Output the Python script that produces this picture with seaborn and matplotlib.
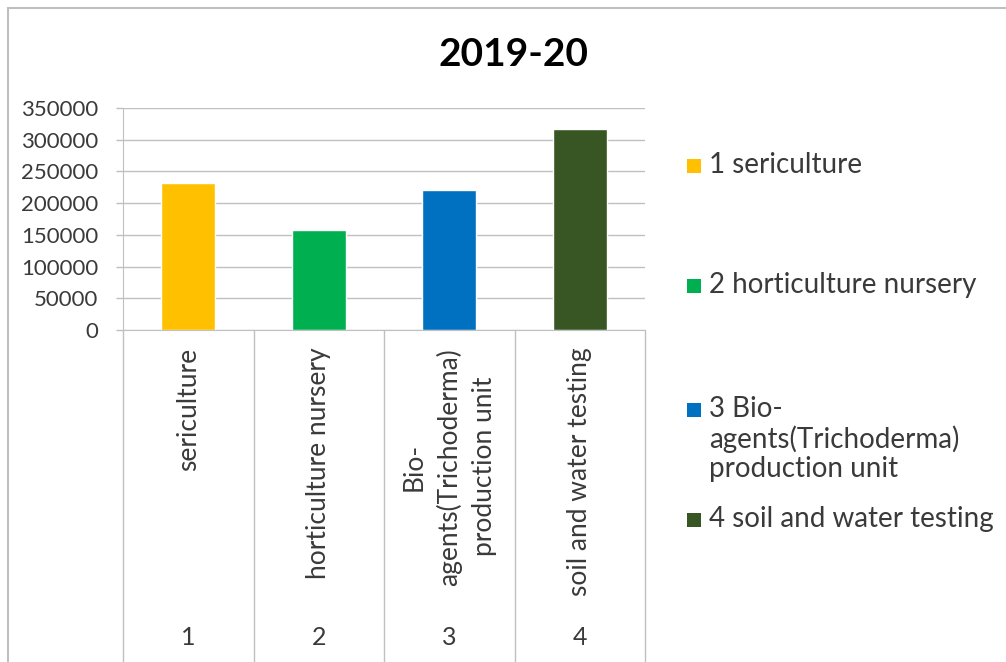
import matplotlib
matplotlib.use("Agg")
import matplotlib.pyplot as plt
import seaborn as sns
from matplotlib.patches import Rectangle
from matplotlib.lines import Line2D

# data
numbers = ["1", "2", "3", "4"]
names = ["sericulture", "horticulture nursery",
         "Bio-\nagents(Trichoderma)\nproduction unit", "soil and water testing"]
values = [231000, 157500, 220500, 317500]
colors = ["#FFC000", "#00B050", "#0070C0", "#375623"]
yticks = [0, 50000, 100000, 150000, 200000, 250000, 300000, 350000]
title = "2019-20"

sns.set_style("white")
plt.rcParams["font.family"] = ["Lato", "DejaVu Sans"]
text_col = "#3A3A3A"
grid_col = "#C0C0C0"

W, H = 1006, 662
fig = plt.figure(figsize=(W / 100, H / 100), dpi=100)
ax = fig.add_axes([123 / W, 1 - 330 / H, 522 / W, 222 / H])

sns.barplot(x=names, y=values, hue=names, palette=colors, width=0.41,
            saturation=1, legend=False, ax=ax)

ax.set_ylim(0, 350000)
ax.set_xlim(-0.5, 3.5)
ax.set_yticks(yticks)
ax.set_yticklabels([str(v) for v in yticks], fontsize=16, color=text_col)
ax.tick_params(axis="y", length=5, width=1, color=grid_col, pad=13, left=True)
ax.set_xticks([])
ax.set_xlabel("")
ax.set_ylabel("")
ax.yaxis.grid(True, color=grid_col, linewidth=1)
ax.set_axisbelow(True)
for s in ["top", "right"]:
    ax.spines[s].set_visible(False)
ax.spines["left"].set_color(grid_col)
ax.spines["bottom"].set_color(grid_col)

# multi-level category axis below the plot
tr = ax.get_xaxis_transform()
for b in [-0.5, 0.5, 1.5, 2.5, 3.5]:
    ax.add_line(Line2D([b, b], [0, -1.6], transform=tr, color=grid_col,
                       linewidth=1, clip_on=False))
for i, (num, name) in enumerate(zip(numbers, names)):
    ax.text(i, -0.08, name, transform=tr, rotation=90, ha="center", va="top",
            fontsize=19, color=text_col, linespacing=1.45, multialignment="center")
    ax.text(i, -1.383, num, transform=tr, ha="center", va="center",
            fontsize=18, color=text_col)

fig.text(514 / W, 1 - 55 / H, title, ha="center", va="center",
         fontsize=28, fontweight="bold", color="black")

# legend drawn by hand to match the uneven spacing
leg_y = [166, 286, 410, 520]
for num, name, c, yy in zip(numbers, names, colors, leg_y):
    fig.add_artist(Rectangle((687 / W, 1 - (yy + 7) / H), 14 / W, 14 / H,
                             transform=fig.transFigure, facecolor=c, edgecolor="none"))
    fig.text(709 / W, 1 - (yy - 14) / H, num + " " + name, ha="left", va="top",
             fontsize=20, color=text_col, linespacing=1.15)

# chart border (top and left edges visible)
fig.add_artist(Line2D([8 / W, 8 / W], [0, 1 - 8 / H], transform=fig.transFigure,
                      color="#BFBFBF", linewidth=1.5))
fig.add_artist(Line2D([8 / W, 1], [1 - 8 / H, 1 - 8 / H], transform=fig.transFigure,
                      color="#BFBFBF", linewidth=1.5))

fig.savefig("out.png", dpi=100)
